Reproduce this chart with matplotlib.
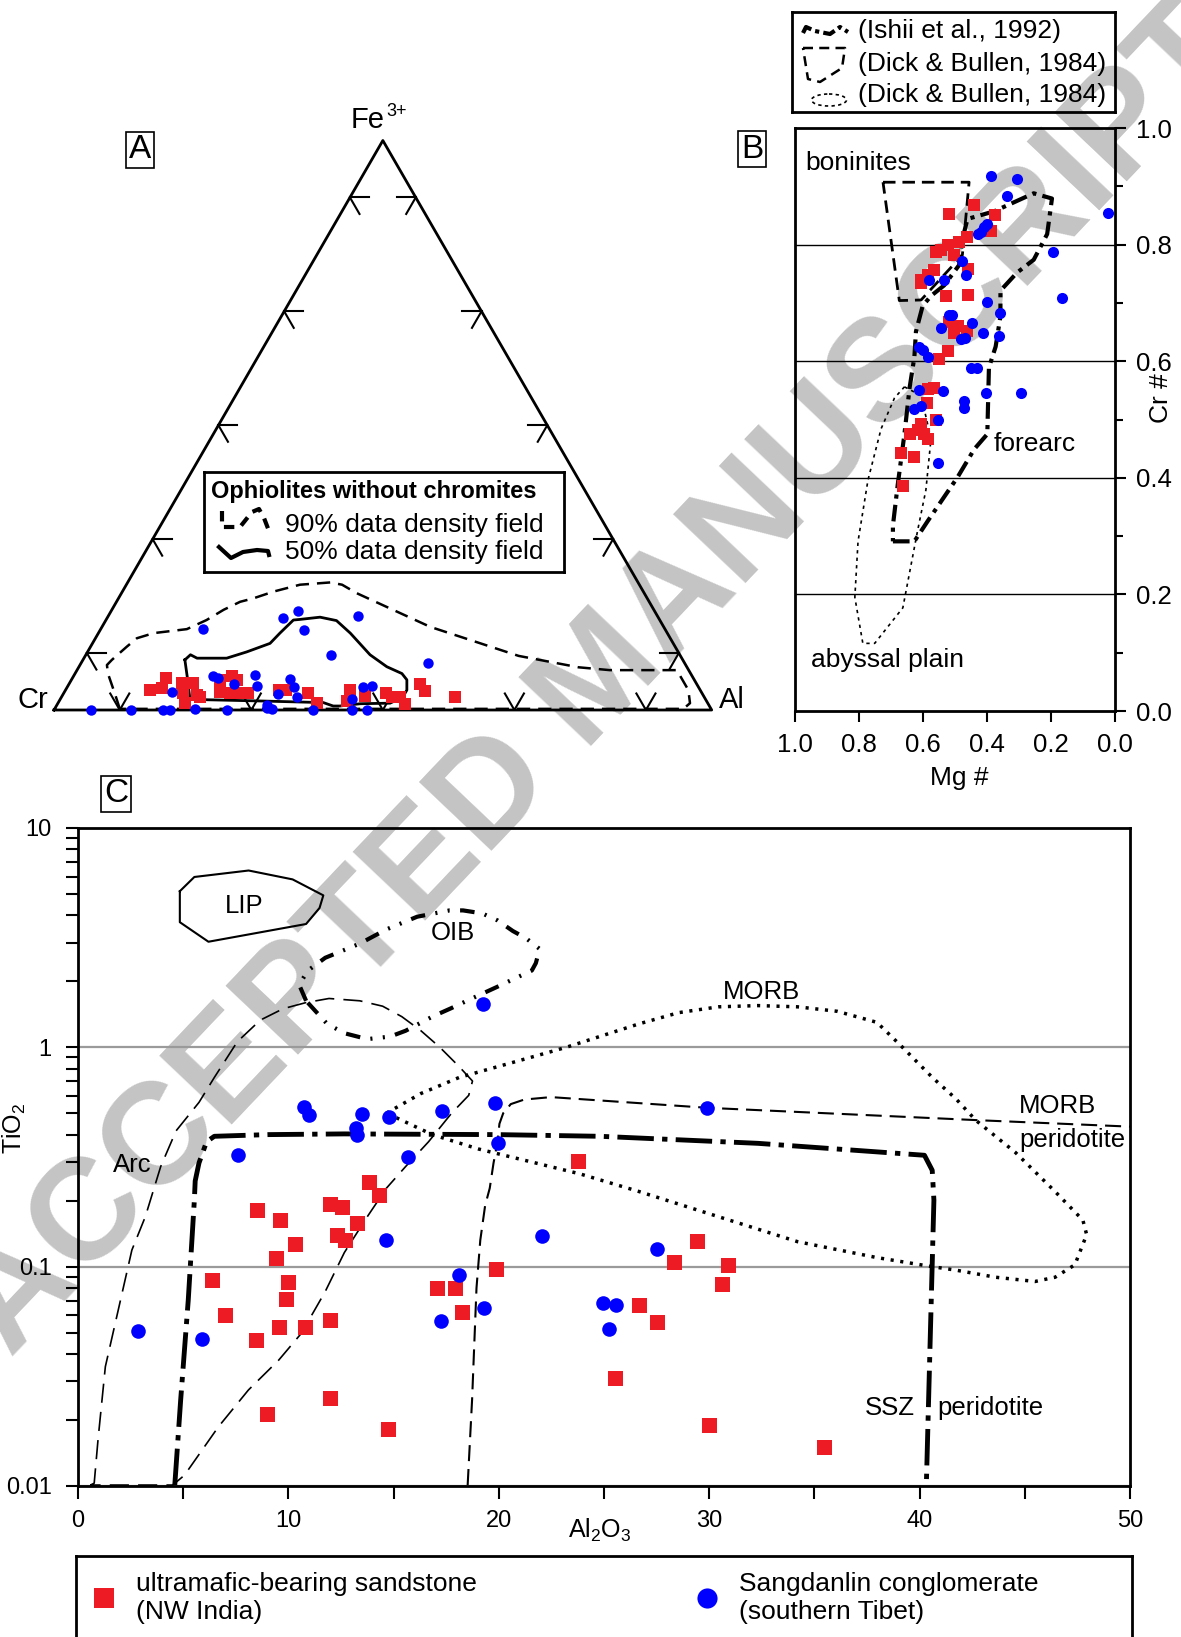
import numpy as np
import matplotlib
matplotlib.use('Agg')
import matplotlib.pyplot as plt
from matplotlib.patches import Ellipse
from matplotlib.ticker import LogLocator, NullFormatter, MultipleLocator

plt.rcParams['font.family'] = ['Liberation Sans', 'DejaVu Sans']
plt.rcParams['mathtext.default'] = 'regular'

RED = '#ed1c24'
BLUE = '#0000ff'

# ---------------- Panel A: ternary Cr - Al - Fe3+ (fractions, Cr = 1 - Al - Fe) ----------------
a_red_al = [.128, .142, .145, .171, .188, .182, .204, .210, .193, .226, .241, .251, .236, .253, .268,
            .281, .325, .336, .372, .394, .432, .437, .461, .491, .502, .514, .528, .534, .547, .599]
a_red_fe = [.035, .056, .038, .047, .048, .029, .026, .023, .012, .053, .059, .053, .032, .029, .030,
            .029, .035, .035, .029, .012, .035, .016, .025, .029, .023, .023, .011, .046, .034, .022]
a_blue_al = [.056, .117, .166, .176, .214, .263, .322, .331, .319, .394, .453, .476, .443, .156, .267, .285,
             .309, .380, .373, .528, .163, .213, .221, .251, .275, .288, .332, .344, .359, .326, .449, .462]
a_blue_fe = [0, 0, 0, 0, .001, 0, .003, .001, .009, 0, 0, 0, .019, .142, .162, .173,
             .141, .165, .097, .082, .032, .059, .057, .046, .062, .042, .054, .041, .022, .028, .041, .042]

# ophiolite density fields
f90_al = [.099, .078, .050, .041, .044, .055, .063, .084, .131, .153, .170, .188, .205, .230, .264, .308,
          .328, .358, .499, .659, .760, .810, .912, .947, .961, .956, .099]
f90_fe = [.002, .029, .064, .079, .088, .111, .126, .135, .142, .158, .176, .190, .196, .208, .220, .224,
          .220, .205, .146, .095, .075, .070, .070, .035, .012, .002, .002]
f50_al = [.155, .159, .172, .217, .242, .270, .276, .285, .294, .323, .351, .383, .432, .468, .497, .510,
          .519, .519, .505, .460, .431, .421, .403, .300, .223, .196, .173, .155]
f50_fe = [.088, .097, .091, .091, .102, .117, .135, .158, .159, .163, .157, .135, .097, .076, .064, .053,
          .035, .023, .012, .011, .007, .007, .013, .016, .018, .021, .059, .088]
tern_ticks = [0.1, 0.3, 0.5, 0.7, 0.9]

# ---------------- Panel B: Mg# vs Cr# ----------------
b_red_mg = [0.520, 0.440, 0.376, 0.389, 0.461, 0.487, 0.523, 0.544, 0.560, 0.458, 0.565, 0.585, 0.606, 0.606,
            0.528, 0.458, 0.518, 0.492, 0.503, 0.461, 0.523, 0.549, 0.565, 0.585, 0.589, 0.560, 0.606, 0.617,
            0.596, 0.642, 0.585, 0.668, 0.629, 0.663, 0.503]
b_red_cr = [0.853, 0.868, 0.851, 0.824, 0.813, 0.804, 0.800, 0.791, 0.787, 0.759, 0.756, 0.747, 0.739, 0.734,
            0.712, 0.714, 0.668, 0.660, 0.649, 0.651, 0.618, 0.604, 0.554, 0.553, 0.528, 0.500, 0.493, 0.482,
            0.475, 0.475, 0.467, 0.443, 0.436, 0.386, 0.783]
b_blue_mg = [0.387, 0.306, 0.337, 0.023, 0.399, 0.409, 0.420, 0.428, 0.195, 0.477, 0.466, 0.580, 0.534,
             0.166, 0.399, 0.358, 0.518, 0.508, 0.544, 0.446, 0.414, 0.363, 0.482, 0.470, 0.611, 0.601,
             0.585, 0.451, 0.430, 0.611, 0.539, 0.404, 0.295, 0.472, 0.472, 0.606, 0.627, 0.554, 0.554]
b_blue_cr = [0.918, 0.912, 0.884, 0.855, 0.835, 0.831, 0.822, 0.818, 0.787, 0.772, 0.747, 0.739, 0.739,
             0.708, 0.701, 0.682, 0.679, 0.680, 0.657, 0.666, 0.649, 0.643, 0.638, 0.640, 0.625, 0.620,
             0.607, 0.589, 0.589, 0.550, 0.549, 0.546, 0.546, 0.532, 0.519, 0.524, 0.518, 0.500, 0.425]

bon_mg = [0.725, 0.456, 0.477, 0.606, 0.674, 0.725]
bon_cr = [0.907, 0.907, 0.782, 0.705, 0.704, 0.907]
fa_mg = [0.694, 0.627, 0.585, 0.492, 0.440, 0.399, 0.394, 0.373, 0.358, 0.358, 0.306, 0.254, 0.212, 0.197,
         0.254, 0.326, 0.378, 0.461, 0.477, 0.487, 0.534, 0.575, 0.601, 0.622, 0.627, 0.642, 0.658, 0.679,
         0.694, 0.694]
fa_cr = [0.291, 0.291, 0.326, 0.401, 0.449, 0.475, 0.589, 0.625, 0.677, 0.721, 0.752, 0.774, 0.818, 0.879,
         0.888, 0.870, 0.857, 0.844, 0.809, 0.765, 0.730, 0.712, 0.695, 0.651, 0.607, 0.554, 0.475, 0.388,
         0.318, 0.291]
ab_mg = [0.658, 0.606, 0.575, 0.591, 0.617, 0.663, 0.751, 0.788, 0.813, 0.803, 0.772, 0.731, 0.689, 0.658]
ab_cr = [0.556, 0.541, 0.467, 0.379, 0.309, 0.177, 0.116, 0.116, 0.195, 0.291, 0.396, 0.484, 0.537, 0.556]

# ---------------- Panel C: Al2O3 vs TiO2 ----------------
c_red_al = [23.75, 13.84, 14.3, 11.97, 12.53, 8.51, 9.62, 13.24, 12.3, 12.71, 10.3, 9.42, 6.35, 9.97, 9.88,
            6.99, 17.06, 17.9, 19.88, 18.26, 9.57, 10.79, 11.97, 8.46, 25.54, 11.97, 9.0, 14.73, 29.98, 35.46,
            26.65, 27.54, 29.4, 28.33, 30.87, 30.62]
c_red_ti = [0.304, 0.244, 0.212, 0.193, 0.188, 0.181, 0.163, 0.158, 0.140, 0.133, 0.127, 0.110, 0.087, 0.0855,
            0.071, 0.060, 0.080, 0.080, 0.0975, 0.0622, 0.0532, 0.0532, 0.057, 0.0463, 0.031, 0.0253, 0.0212,
            0.0181, 0.0189, 0.0150, 0.0668, 0.0559, 0.1307, 0.1045, 0.102, 0.083]
c_blue_al = [2.84, 5.89, 7.62, 10.75, 10.99, 13.48, 13.21, 13.25, 14.79, 17.3, 15.7, 19.24, 19.84, 19.97,
             14.62, 22.03, 18.12, 19.30, 17.24, 29.91, 27.52, 24.94, 25.58, 25.22]
c_blue_ti = [0.051, 0.047, 0.322, 0.536, 0.492, 0.496, 0.43, 0.40, 0.479, 0.511, 0.316, 1.57, 0.556, 0.365,
             0.133, 0.1375, 0.0919, 0.065, 0.0567, 0.530, 0.121, 0.0683, 0.067, 0.052]

lip_al = [4.84, 5.53, 8.11, 10.2, 11.66, 11.48, 10.84, 6.2, 4.84, 4.84]
lip_ti = [5.15, 5.98, 6.40, 5.83, 4.93, 4.32, 3.65, 3.03, 3.72, 5.15]
oib_al = [10.84, 10.51, 10.93, 11.75, 13.39, 14.66, 16.12, 17.66, 18.30, 19.21, 19.94, 20.67, 21.3, 21.94,
          21.76, 21.57, 20.85, 19.94, 18.66, 17.75, 16.84, 15.57, 14.84, 13.75, 12.66, 11.84, 11.21, 10.84]
oib_ti = [1.63, 1.93, 2.24, 2.56, 2.97, 3.45, 3.94, 4.21, 4.21, 4.08, 3.79, 3.39, 3.14, 2.81,
          2.42, 2.24, 2.08, 1.89, 1.66, 1.51, 1.38, 1.19, 1.12, 1.09, 1.16, 1.28, 1.49, 1.63]
arc_al = [0.59, 0.77, 0.95, 1.30, 2.02, 2.56, 3.2, 3.93, 4.66, 5.75, 6.48, 7.57, 8.66, 9.75, 10.84, 11.93,
          13.39, 14.48, 15.39, 16.3, 17.2, 18.12, 18.75, 18.57, 17.75, 16.66, 15.57, 14.66, 13.75, 12.66,
          11.75, 10.61, 9.54, 8.10, 6.67, 5.06, 4.5, 0.59]
arc_ti = [0.0101, 0.0103, 0.0162, 0.035, 0.0704, 0.119, 0.169, 0.286, 0.416, 0.561, 0.729, 1.06, 1.33, 1.50,
          1.60, 1.67, 1.63, 1.54, 1.38, 1.19, 1.00, 0.816, 0.702, 0.604, 0.50, 0.371, 0.286, 0.228, 0.169,
          0.116, 0.077, 0.0496, 0.0375, 0.0274, 0.0186, 0.0112, 0.0101, 0.0101]
morb_al = [14.66, 16.3, 18.12, 19.94, 21.75, 23.2, 24.79, 26.67, 28.56, 30.44, 32.32, 34.2, 36.08, 37.97,
           39.1, 40.6, 41.73, 42.67, 44.55, 46.44, 47.76, 47.94, 47.38, 46.44, 45.49, 43.61, 41.73, 40.6,
           37.97, 34.2, 30.44, 26.67, 23.85, 21.75, 19.03, 16.84, 15.39, 14.66]
morb_ti = [0.501, 0.616, 0.729, 0.816, 0.913, 1.00, 1.12, 1.28, 1.44, 1.53, 1.55, 1.53, 1.46, 1.30,
           1.02, 0.730, 0.582, 0.465, 0.332, 0.220, 0.163, 0.140, 0.102, 0.0895, 0.0856, 0.0895, 0.0964, 0.100,
           0.110, 0.130, 0.169, 0.220, 0.265, 0.297, 0.344, 0.40, 0.465, 0.501]
mp_al = [18.52, 18.73, 18.94, 19.12, 19.35, 19.57, 19.75, 19.94, 20.03, 20.21, 20.57, 21.21, 22.48, 29.91,
         42.86, 50.0]
mp_ti = [0.0101, 0.0247, 0.080, 0.132, 0.190, 0.228, 0.297, 0.371, 0.448, 0.501, 0.551, 0.578, 0.593, 0.530,
         0.465, 0.435]
ssz_al = [4.6, 4.88, 5.24, 5.53, 5.57, 5.75, 6.11, 6.48, 9.02, 12.66, 19.94, 24.81, 32.32, 40.23, 40.6,
          40.68, 40.32]
ssz_ti = [0.0101, 0.0247, 0.0704, 0.201, 0.246, 0.297, 0.371, 0.393, 0.40, 0.403, 0.40, 0.393, 0.365, 0.322,
          0.275, 0.201, 0.0101]

W, H = 1181, 1637
fig = plt.figure(figsize=(W / 100, H / 100), dpi=100)


def fx(x):
    return x / W


def fy(y):
    return 1 - y / H


def px_axes(x0, y0, x1, y1):
    # axes whose data coords are figure pixels (y downward)
    ax = fig.add_axes([fx(x0), fy(y1), (x1 - x0) / W, (y1 - y0) / H])
    ax.set_xlim(x0, x1)
    ax.set_ylim(y1, y0)
    ax.set_xticks([])
    ax.set_yticks([])
    ax.set_facecolor('none')
    for s in ax.spines.values():
        s.set_linewidth(2)
    return ax


def tern(al, fe):
    al = np.asarray(al, float)
    fe = np.asarray(fe, float)
    return al + fe / 2, fe * np.sqrt(3) / 2


# watermark behind everything
fig.text(fx(602), fy(680), 'ACCEPTED MANUSCRIPT', rotation=46.5, fontsize=104, fontweight='bold',
         color='#c4c4c4', ha='center', va='center', rotation_mode='anchor', zorder=-5)

# ================= Panel A =================
axA = fig.add_axes([fx(54), fy(710), 657.7 / W, 569.5 / H])
axA.set_xlim(0, 1)
axA.set_ylim(0, np.sqrt(3) / 2)
axA.axis('off')
tx, ty = tern([0, 1, 0, 0], [0, 0, 1, 0])
axA.plot(tx, ty, color='black', lw=2, clip_on=False)
L = 0.029
h = np.sqrt(3) / 2
for t in tern_ticks:
    px, py = t / 2, t * h
    axA.plot([px, px + L], [py, py], 'k-', lw=1.5)
    axA.plot([px, px + L * 0.5], [py, py - L * h], 'k-', lw=1.5)
    px, py = 1 - t / 2, t * h
    axA.plot([px, px - L], [py, py], 'k-', lw=1.5)
    axA.plot([px, px - L * 0.5], [py, py - L * h], 'k-', lw=1.5)
    axA.plot([t - L * 0.5, t, t + L * 0.5], [L * h, 0, L * h], 'k-', lw=1.5)

x90, y90 = tern(f90_al, f90_fe)
axA.plot(x90, y90, color='black', lw=1.8, ls=(0, (5.3, 3.2)), clip_on=False)
x50, y50 = tern(f50_al, f50_fe)
axA.plot(x50, y50, color='black', lw=2, clip_on=False)
xr, yr = tern(a_red_al, a_red_fe)
axA.plot(xr, yr, 's', color=RED, ms=8, mew=0, clip_on=False, zorder=5)
xb, yb = tern(a_blue_al, a_blue_fe)
axA.plot(xb, yb, 'o', color=BLUE, ms=7.5, mew=0, clip_on=False, zorder=6)

fig.text(fx(48), fy(700), 'Cr', fontsize=21, ha='right', va='center')
fig.text(fx(719), fy(700), 'Al', fontsize=21, ha='left', va='center')
fig.text(fx(385), fy(120), 'Fe', fontsize=21, ha='right', va='center')
fig.text(fx(386), fy(112), '3+', fontsize=13, ha='left', va='center')

# legend box of panel A
axLA = px_axes(204, 472, 564, 572)
axLA.text(211, 491.5, 'Ophiolites without chromites', fontsize=17, fontweight='bold', va='center')
axLA.plot([222, 222, 240, 252, 259, 264, 269], [511, 527, 527, 512, 509, 518, 531], color='black',
          lw=3, ls=(0, (2.5, 1.8)))
axLA.plot([219, 231, 243, 257, 268, 269], [547, 558, 552, 550, 551, 555], color='black', lw=3)
axLA.text(284.6, 525, '90% data density field', fontsize=19, va='center')
axLA.text(284.6, 552, '50% data density field', fontsize=19, va='center')

# ================= Panel B =================
axB = fig.add_axes([fx(795), fy(711), 320 / W, 583 / H])
axB.set_facecolor('none')
axB.set_xlim(1, 0)
axB.set_ylim(0, 1)
for s in axB.spines.values():
    s.set_linewidth(2)
for g in [0.2, 0.4, 0.6, 0.8]:
    axB.axhline(g, color='black', lw=1, zorder=1)
axB.set_xticks(np.arange(0, 1.01, 0.2))
axB.set_xticklabels(['%.1f' % v for v in np.arange(0, 1.01, 0.2)])
axB.yaxis.tick_right()
axB.set_yticks(np.arange(0, 1.01, 0.2))
axB.set_yticklabels(['%.1f' % v for v in np.arange(0, 1.01, 0.2)])
axB.set_yticks([0.1, 0.3, 0.5, 0.7, 0.9], minor=True)
axB.tick_params(axis='both', which='major', direction='out', length=8, width=1.5, labelsize=18.5)
axB.tick_params(axis='y', which='major', pad=7)
axB.tick_params(axis='x', which='major', pad=8)
axB.tick_params(axis='y', which='minor', direction='out', length=6, width=1.5)
axB.plot(bon_mg, bon_cr, color='black', lw=2, ls=(0, (4.5, 2.5)), zorder=2)
axB.plot(fa_mg, fa_cr, color='black', lw=3, ls=(0, (4, 1.5, 1, 1.5)), zorder=2)
axB.plot(ab_mg, ab_cr, color='black', lw=1.2, ls=(0, (2, 2.5)), zorder=2)
axB.plot(b_red_mg, b_red_cr, 's', color=RED, ms=8.6, mew=0, zorder=5, clip_on=False)
axB.plot(b_blue_mg, b_blue_cr, 'o', color=BLUE, ms=8, mew=0, zorder=6, clip_on=False)
axB.text(0.967, 0.940, 'boninites', fontsize=19, va='center', ha='left')
axB.text(0.378, 0.458, 'forearc', fontsize=19, va='center', ha='left')
axB.text(0.950, 0.088, 'abyssal plain', fontsize=19, va='center', ha='left')
fig.text(fx(959), fy(778), 'Mg #', fontsize=19, ha='center', va='center')
fig.text(fx(1161), fy(398), 'Cr #', fontsize=19, ha='center', va='center', rotation=90)

# legend box of panel B
axLB = px_axes(792, 12, 1115, 112)
axLB.plot([803, 806, 815, 830, 840, 848], [33, 27, 31, 34, 27, 32], color='black', lw=3,
          ls=(0, (3, 1, 1, 1)))
axLB.plot([803, 845, 842, 820, 808, 803], [48, 48, 68, 82, 79, 48], color='black', lw=1.8,
          ls=(0, (4, 2.5)))
axLB.add_patch(Ellipse((829, 100), 35, 12, fill=False, lw=1.2, ls=(0, (2, 2))))
for yy, txt in zip([31, 64, 95], ['(Ishii et al., 1992)', '(Dick & Bullen, 1984)', '(Dick & Bullen, 1984)']):
    axLB.text(858, yy, txt, fontsize=19, va='center', ha='left')

# ================= Panel C =================
axC = fig.add_axes([fx(78), fy(1486), 1052 / W, 658 / H])
axC.set_facecolor('none')
axC.set_yscale('log')
axC.set_xlim(0, 50)
axC.set_ylim(0.01, 10)
for s in axC.spines.values():
    s.set_linewidth(2)
for g in [0.01, 0.1, 1]:
    axC.axhline(g, color='#9a9a9a', lw=1.6, zorder=0.5)
axC.set_xticks([0, 10, 20, 30, 40, 50])
axC.xaxis.set_minor_locator(MultipleLocator(5))
axC.set_yticks([0.01, 0.1, 1, 10])
axC.set_yticklabels(['0.01', '0.1', '1', '10'])
axC.yaxis.set_minor_locator(LogLocator(base=10, subs=np.arange(2, 10)))
axC.yaxis.set_minor_formatter(NullFormatter())
axC.tick_params(axis='both', which='both', direction='out', length=9, width=1.5, labelsize=17)
axC.tick_params(axis='y', which='major', pad=10)
axC.tick_params(axis='x', which='major', pad=8)

axC.plot(lip_al, lip_ti, color='black', lw=1.5)
axC.plot(oib_al, oib_ti, color='black', lw=3, ls=(0, (3.5, 2.5, 0.5, 2.5, 0.5, 2.5)))
axC.plot(arc_al, arc_ti, color='black', lw=1.2, ls=(0, (11.5, 5.5)))
axC.plot(morb_al, morb_ti, color='black', lw=2.5, ls=(0, (0.9, 1.9)))
axC.plot(mp_al, mp_ti, color='black', lw=1.5, ls=(0, (7.7, 3.8)))
axC.plot(ssz_al, ssz_ti, color='black', lw=3.5, ls=(0, (7.5, 1.7, 1.1, 1.7)))
axC.plot(c_red_al, c_red_ti, 's', color=RED, ms=10.8, mew=0, zorder=5)
axC.plot(c_blue_al, c_blue_ti, 'o', color=BLUE, ms=10.5, mew=0, zorder=6)

axC.text(7.88, 4.40, 'LIP', fontsize=18.5, ha='center', va='center')
axC.text(17.84, 3.32, 'OIB', fontsize=18.5, ha='center', va='center')
axC.text(2.57, 0.291, 'Arc', fontsize=18.5, ha='center', va='center')
axC.text(32.5, 1.79, 'MORB', fontsize=18.5, ha='center', va='center')
axC.text(44.74, 0.54, 'MORB', fontsize=18.5, ha='left', va='center')
axC.text(44.74, 0.377, 'peridotite', fontsize=18.5, ha='left', va='center')
axC.text(39.78, 0.0227, 'SSZ', fontsize=18.5, ha='right', va='center')
axC.text(40.86, 0.0227, 'peridotite', fontsize=18.5, ha='left', va='center')

fig.text(fx(14), fy(1128), r'TiO$_2$', fontsize=18, rotation=90, ha='center', va='center')
fig.text(fx(600), fy(1530), r'Al$_2$O$_3$', fontsize=18, ha='center', va='center')

# box labels
for xx, yy, lab in [(140, 150, 'A'), (752, 149, 'B'), (116, 794, 'C')]:
    fig.text(fx(xx), fy(yy), lab, fontsize=24, ha='center', va='center',
             bbox=dict(boxstyle='square,pad=0.08', fc='white', ec='black', lw=1.2))

# bottom legend
axL = px_axes(76, 1556, 1132, 1680)
axL.plot([104], [1598], 's', color=RED, ms=15, mew=0)
axL.plot([707], [1598], 'o', color=BLUE, ms=14.5, mew=0)
axL.text(136, 1598, 'ultramafic-bearing sandstone\n(NW India)', fontsize=19, va='center', ha='left',
         linespacing=1.2)
axL.text(739, 1598, 'Sangdanlin conglomerate\n(southern Tibet)', fontsize=19, va='center', ha='left',
         linespacing=1.2)

fig.savefig('out.png', dpi=100)
